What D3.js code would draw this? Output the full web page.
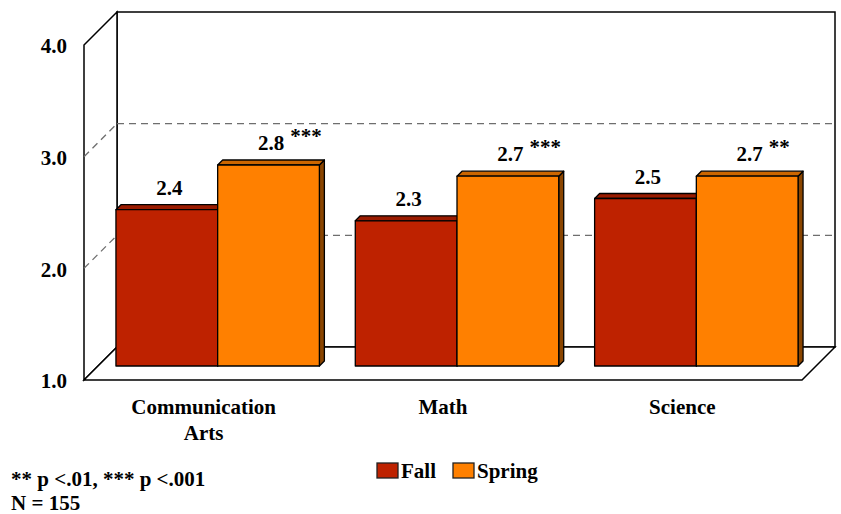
<!DOCTYPE html>
<html>
<head>
<meta charset="utf-8">
<script src="https://cdn.jsdelivr.net/npm/d3@7"></script>
<style>
    body { margin: 0; background: #fff; }
    svg text { font-family: "Liberation Serif", Tinos, "Times New Roman", Times, "DejaVu Serif", serif; font-weight: bold; fill: #000; }
</style>
</head>
<body>
<script>
const categories = ["Communication Arts", "Math", "Science"];
const seriesNames = ["Fall", "Spring"];
const fallValues = [2.4, 2.3, 2.5];
const springValues = [2.8, 2.7, 2.7];
const springStars = ["***", "***", "**"];
const yTicks = [1, 2, 3, 4];
const gridValues = [2, 3];
const notes = ["** p <.01, *** p <.001", "N = 155"];

const width = 841, height = 514;
const depth = 33;      // wall depth (px, both x and y)
const barPlane = 14;   // bars sit this far back from the front plane
const barDepth = 5;    // depth of each bar
const fontSize = 21;
const fontFamily = '"Liberation Serif", Tinos, "Times New Roman", Times, "DejaVu Serif", serif';

const colors = {
    Fall: { front: '#be2200', top: '#9a1b00', side: '#7a1500' },
    Spring: { front: '#ff8000', top: '#cc6600', side: '#8a4500' }
};

const svg = d3.select('body')
    .append('svg')
    .attr('width', width)
    .attr('height', height)
    .style('font-family', fontFamily);

// Scales for the front plane
const y = d3.scaleLinear().domain([1, 4]).range([380, 45]);
const x = d3.scaleBand()
    .domain(categories)
    .range([84, 802])
    .paddingInner(0.15)
    .paddingOuter(0.075);
const xSeries = d3.scaleBand().domain(seriesNames).range([0, x.bandwidth()]);

const x0 = x.range()[0], x1 = x.range()[1];
const yBottom = y(1), yTop = y(4);

// Walls
const walls = svg.append('g')
    .attr('fill', '#fff')
    .attr('stroke', '#000')
    .attr('stroke-width', 1.5)
    .attr('stroke-linejoin', 'miter');

walls.append('rect')
    .attr('x', x0 + depth)
    .attr('y', yTop - depth)
    .attr('width', x1 - x0)
    .attr('height', yBottom - yTop);

walls.append('polygon')
    .attr('points', [[x0, yTop], [x0 + depth, yTop - depth], [x0 + depth, yBottom - depth], [x0, yBottom]].join(' '));

walls.append('polygon')
    .attr('points', [[x0, yBottom], [x1, yBottom], [x1 + depth, yBottom - depth], [x0 + depth, yBottom - depth]].join(' '));

// Dashed gridlines on the back and side wall
const grid = svg.append('g')
    .attr('stroke', '#6e6e6e')
    .attr('stroke-width', 1.3)
    .attr('stroke-dasharray', '7,5')
    .attr('fill', 'none');

gridValues.forEach(v => {
    grid.append('line')
        .attr('x1', x0 + depth).attr('x2', x1 + depth)
        .attr('y1', y(v) - depth).attr('y2', y(v) - depth);
    grid.append('line')
        .attr('x1', x0).attr('x2', x0 + depth)
        .attr('y1', y(v)).attr('y2', y(v) - depth);
});

// Y axis labels
const yAxis = svg.append('g')
    .attr('transform', `translate(${x0},0)`)
    .call(d3.axisLeft(y).tickValues(yTicks).tickFormat(d3.format('.1f')).tickSize(0).tickPadding(17));
yAxis.select('.domain').remove();
yAxis.attr('font-family', null).attr('font-size', null);
yAxis.selectAll('text')
    .attr('font-size', fontSize)
    .attr('dy', '0.38em');

// Bars
const bars = [];
categories.forEach((c, i) => {
    bars.push({ category: c, series: 'Fall', value: fallValues[i], stars: '' });
    bars.push({ category: c, series: 'Spring', value: springValues[i], stars: springStars[i] });
});

const barGroup = svg.selectAll('.bar')
    .data(bars)
    .enter()
    .append('g')
    .classed('bar', true)
    .attr('stroke', '#000')
    .attr('stroke-width', 1.3)
    .attr('stroke-linejoin', 'round');

barGroup.each(function (d) {
    const g = d3.select(this);
    const bx = x(d.category) + xSeries(d.series) + barPlane;
    const bw = xSeries.bandwidth();
    const top = y(d.value) - barPlane;
    const bottom = y(1) - barPlane;
    const col = colors[d.series];

    // side face
    g.append('polygon')
        .attr('fill', col.side)
        .attr('points', [[bx + bw, top], [bx + bw + barDepth, top - barDepth], [bx + bw + barDepth, bottom - barDepth], [bx + bw, bottom]].join(' '));
    // top face
    g.append('polygon')
        .attr('fill', col.top)
        .attr('points', [[bx, top], [bx + barDepth, top - barDepth], [bx + bw + barDepth, top - barDepth], [bx + bw, top]].join(' '));
    // front face
    g.append('rect')
        .attr('fill', col.front)
        .attr('x', bx)
        .attr('y', top)
        .attr('width', bw)
        .attr('height', bottom - top);
});

// Value labels
const labels = svg.append('g');
bars.forEach(d => {
    const cx = x(d.category) + xSeries(d.series) + barPlane + xSeries.bandwidth() / 2 + barDepth / 2;
    const baseY = y(d.value) - barPlane - 15;
    const t = labels.append('text')
        .attr('x', cx)
        .attr('y', baseY)
        .attr('text-anchor', 'middle')
        .attr('font-size', fontSize)
        .text(d3.format('.1f')(d.value));
    if (d.stars) {
        const w = t.node().getComputedTextLength();
        labels.append('text')
            .attr('x', cx + w / 2 + 6)
            .attr('y', baseY - 7)
            .attr('font-size', fontSize)
            .text(d.stars);
    }
});

// Category labels
const catLabels = svg.append('g');
categories.forEach(c => {
    const words = c.split(' ');
    const t = catLabels.append('text')
        .attr('x', x(c) + x.bandwidth() / 2)
        .attr('y', 414)
        .attr('text-anchor', 'middle')
        .attr('font-size', fontSize);
    words.forEach((w, i) => {
        t.append('tspan')
            .attr('x', x(c) + x.bandwidth() / 2)
            .attr('dy', i === 0 ? 0 : 26)
            .text(w);
    });
});

// Legend
const legend = svg.append('g');
const legendX = [377, 453];
seriesNames.forEach((s, i) => {
    legend.append('rect')
        .attr('x', legendX[i])
        .attr('y', 463)
        .attr('width', 21)
        .attr('height', 15)
        .attr('fill', colors[s].front)
        .attr('stroke', '#222')
        .attr('stroke-width', 1.3);
    legend.append('text')
        .attr('x', legendX[i] + 24)
        .attr('y', 478)
        .attr('font-size', fontSize)
        .text(s);
});

// Footnotes
svg.append('g')
    .selectAll('text')
    .data(notes)
    .enter()
    .append('text')
    .attr('x', 11)
    .attr('y', (d, i) => 486 + i * 24)
    .attr('font-size', fontSize)
    .text(d => d);
</script>
</body>
</html>
